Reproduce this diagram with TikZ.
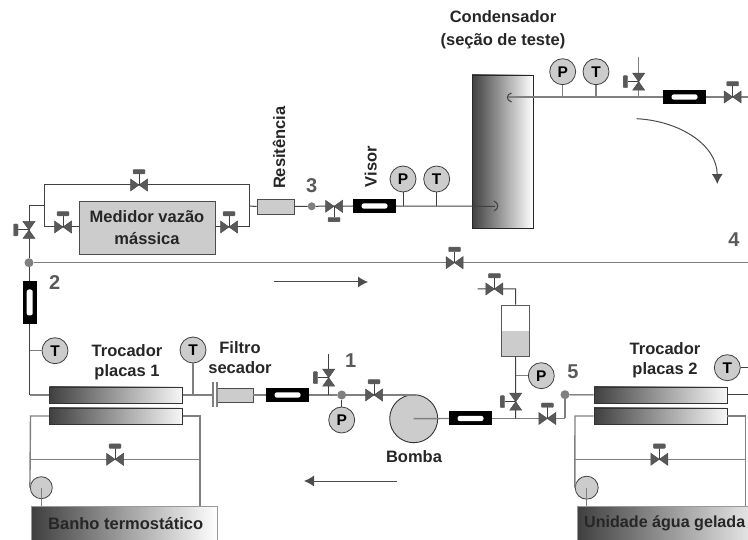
\documentclass[tikz,border=0pt]{standalone}
\usepackage{fontspec}
\setmainfont{Liberation Sans}
\usetikzlibrary{arrows.meta,positioning,calc}

\definecolor{pipedark}{gray}{0.25}
\definecolor{pipegray}{gray}{0.5}
\definecolor{partgray}{gray}{0.8}
\definecolor{valvegray}{gray}{0.35}
\definecolor{numgray}{gray}{0.35}
\definecolor{shadedark}{gray}{0.25}
\definecolor{shadelight}{gray}{0.97}

\tikzset{
  txt/.style={font=\fontsize{16.5}{19}\selectfont\bfseries,text=black!85,align=center,inner sep=0pt},
  num/.style={font=\fontsize{20}{22}\selectfont\bfseries,text=numgray,inner sep=0pt},
  pipe/.style={draw=pipedark,line width=1pt},
  pipeg/.style={draw=pipegray,line width=1.4pt},
  gauge/.style={circle,draw=black!75,line width=.8pt,fill=partgray,minimum size=26pt,inner sep=0pt,
    font=\fontsize{15.5}{17}\selectfont\bfseries},
  dot/.style={circle,fill=pipegray,minimum size=9pt,inner sep=0pt},
  visor/.style={rectangle,fill=black,minimum width=43pt,minimum height=14pt,inner sep=0pt,
    path picture={\fill[white,rounded corners=2.2pt] (path picture bounding box.center) ++(-13pt,-2.6pt) rectangle ++(26pt,5.2pt);}},
  visorv/.style={rectangle,fill=black,minimum width=14pt,minimum height=43pt,inner sep=0pt,
    path picture={\fill[white,rounded corners=2.2pt] (path picture bounding box.center) ++(-3pt,-13pt) rectangle ++(6pt,26pt);}},
  part/.style={rectangle,draw=black!70,line width=.9pt,fill=partgray,inner sep=0pt},
  exch/.style={rectangle,draw=black!80,line width=.9pt,left color=shadedark,right color=shadelight,
    minimum width=133pt,minimum height=16pt,inner sep=0pt},
  flow/.style={-{Latex[length=10pt,width=11pt]},draw=black!70,line width=1pt},
  pics/valve/.style={code={
    \fill[valvegray,draw=black!70,line width=.5pt] (-8.5,-6) -- (8.5,6) -- (8.5,-6) -- (-8.5,6) -- cycle;
    \draw[pipedark,line width=1pt] (0,0) -- (0,-11);
    \fill[valvegray,draw=black!60,line width=.4pt,rounded corners=.8pt] (-6,-11) rectangle (6,-15.5);
  }}
}

\begin{document}
\begin{tikzpicture}[x=1pt,y=-1pt]
  \useasboundingbox (0,0) rectangle (748,540);
  \clip (0,0) rectangle (748,540);

  % upper branch
  \node[part,minimum width=136pt,minimum height=53pt] (medidor) at (147,227.5) {};
  \node[txt] at (147,227.5) {Medidor vazão\\[3pt]mássica};
  \node[part,minimum width=37pt,minimum height=15pt] (resist) at (275.5,206.5) {};
  \node[visor] (visorA) at (374.5,206) {};
  \node[rectangle,draw=black!85,line width=.9pt,left color=shadedark,right color=white,
    minimum width=61pt,minimum height=153pt,inner sep=0pt] (cond) at (502.5,151.5) {};
  \node[gauge] (pA) at (403,179) {P};
  \node[gauge] (tA) at (436.7,179) {T};
  \node[gauge] (pB) at (562.7,71.7) {P};
  \node[gauge] (tB) at (596,71.7) {T};
  \node[visor] (visorB) at (684.5,97) {};
  \node[dot] (dot2) at (29,262.7) {};
  \node[dot,minimum size=8pt] (dot3) at (311.7,206.3) {};

  \coordinate (vTop) at (139,185);
  \coordinate (vMedL) at (63,227);
  \coordinate (vMedR) at (229,227);
  \coordinate (vIn) at (29,230);
  \coordinate (vRes) at (334,206.3);
  \coordinate (vDrain) at (638.7,81.7);
  \coordinate (vOut) at (732.7,97);
  \coordinate (vMain) at (454.5,262.7);
  \coordinate (bypTL) at (44,185);
  \coordinate (bypTR) at (249.5,185);
  \coordinate (bypBL) at (44,227);
  \coordinate (bypBR) at (249.5,227);
  \coordinate (bypML) at (44,206);
  \coordinate (bypMR) at (249.5,206);
  \coordinate (kneeIn) at (29,206);
  \coordinate (condIn) at (495,206.3);
  \coordinate (condOut) at (508,97);
  \coordinate (endTop) at (748,97);
  \coordinate (endDrain) at (638.7,56.7);
  \coordinate (endMain) at (748,262.7);

  \draw[pipe] (bypBL) -- (bypTL) -- (bypTR) -- (bypBR) -- (medidor.east |- bypBR);
  \draw[pipe] (bypBL) -- (medidor.west |- bypBL);
  \draw[pipe] (dot2) -- (kneeIn) -- (bypML);
  \draw[pipe] (bypMR) -- (resist.west);
  \draw[pipe] (resist.east) -- (dot3) -- (visorA.west);
  \draw[pipe] (visorA.east) -- (condIn);
  \draw[pipe] (pA.south) -- (pA |- condIn);
  \draw[pipe] (tA.south) -- (tA |- condIn);
  \draw[pipe] (494,201) .. controls (499,203) and (499,209) .. (494,211);
  \draw[pipeg] (condOut) -- (visorB.west);
  \draw[pipeg] (visorB.east) -- (endTop);
  \draw[pipe] (511.5,93) .. controls (506,94.5) and (506,100) .. (511.5,102);
  \draw[pipeg] (pB.south) -- (pB |- condOut);
  \draw[pipeg] (tB.south) -- (tB |- condOut);
  \draw[pipeg] (endDrain) -- (endDrain |- condOut);
  \draw[pipeg] (dot2) -- (endMain);

  \pic at (vTop) {valve};
  \pic at (vMedL) {valve};
  \pic at (vMedR) {valve};
  \pic[rotate=90] at (vIn) {valve};
  \pic[rotate=180] at (vRes) {valve};
  \pic[rotate=90] at (vDrain) {valve};
  \pic at (vOut) {valve};
  \pic at (vMain) {valve};

  % lower branch
  \node[visorv] (visorC) at (29.7,302.5) {};
  \node[exch] (trocA) at (115.8,395) {};
  \node[exch] (trocAb) at (115.8,416) {};
  \node[exch] (trocB) at (660.5,395) {};
  \node[exch] (trocBb) at (660.5,416) {};
  \node[gauge] (tC) at (55,350.7) {T};
  \node[gauge] (tD) at (193,350) {T};
  \node[gauge] (tE) at (727.3,367.7) {T};
  \node[gauge] (pC) at (341.7,420) {P};
  \node[gauge] (pD) at (541.3,375.7) {P};
  \node[part,minimum width=36pt,minimum height=14pt] (filtro) at (235,395) {};
  \node[visor] (visorD) at (287.5,395) {};
  \node[visor] (visorE) at (470.5,418.5) {};
  \node[circle,draw=black!80,line width=.9pt,fill=partgray,minimum size=48pt,inner sep=0pt] (bomba) at (413.7,418.7) {};
  \node[dot] (dot1) at (341.7,395) {};
  \node[dot] (dot5) at (565,394.7) {};
  \node[rectangle,draw=black!65,line width=.9pt,fill=white,minimum width=27.5pt,minimum height=51pt,inner sep=0pt] (tanque) at (515.5,330.5) {};
  \fill[partgray] ($(tanque.south west)+(.5,-.5)$) rectangle ($(tanque.east |- 0,330.7)+(-.5,0)$);

  \coordinate (vPre) at (374,395);
  \coordinate (vCarga) at (328.7,377.7);
  \coordinate (vTopT) at (494.3,289);
  \coordinate (vBaseT) at (515.7,401.7);
  \coordinate (vPos) at (547.3,418.5);
  \coordinate (kneeA) at (29.5,395);
  \coordinate (barA) at (213,382);
  \coordinate (barAe) at (213,407);
  \coordinate (barB) at (217,382);
  \coordinate (barBe) at (217,407);
  \coordinate (endCarga) at (328.7,354);
  \coordinate (topBomba) at (416,395);
  \coordinate (kneeTank) at (515.7,289);
  \coordinate (stubTank) at (477.7,289);
  \coordinate (kneeFive) at (565,418.5);
  \coordinate (baseT) at (515.7,418.5);
  \coordinate (endE) at (748,395);
  \coordinate (endT) at (748,367.7);

  \draw[pipe] (dot2) -- (visorC.north -| dot2);
  \draw[pipe] (visorC.south -| dot2) -- (kneeA -| dot2) -- (kneeA);
  \draw[pipeg] (kneeA) -- (trocA.west);
  \draw[pipeg] (tC.west) -- (tC -| kneeA);
  \draw[pipeg] (trocA.east) -- (barA |- trocA);
  \draw[pipeg] (tD.south) -- (tD |- trocA);
  \draw[pipeg] (barA) -- (barAe);
  \draw[pipeg] (barB) -- (barBe);
  \draw[pipeg] (filtro.east) -- (visorD.west);
  \draw[pipeg] (visorD.east) -- (dot1) -- (vPre) -- (topBomba);
  \draw[pipe] (dot1) -- (pC.north);
  \draw[pipe] (endCarga) -- (endCarga |- dot1);
  \draw[pipeg] (bomba.center) -- (visorE.west);
  \draw[pipeg] (visorE.east) -- (kneeFive);
  \draw[pipeg] (kneeFive) -- (dot5);
  \draw[pipe] (dot5) -- (trocB.west);
  \draw[pipe] (trocB.east) -- (endE);
  \draw[pipe] (tE.east) -- (endT);
  \draw[pipe] (tanque.south) -- (baseT);
  \draw[pipe] (tanque.north) -- (kneeTank) -- (stubTank);
  \draw[pipeg] (pD.west) -- (pD -| baseT);

  \pic at (vPre) {valve};
  \pic[rotate=90] at (vCarga) {valve};
  \pic at (vTopT) {valve};
  \pic[rotate=90] at (vBaseT) {valve};
  \pic at (vPos) {valve};

  % thermal loops
  \node[gauge,minimum size=22pt] (pumpA) at (41.3,487.7) {};
  \node[gauge,minimum size=23pt] (pumpB) at (586.7,487.7) {};
  \node[rectangle,draw=black!40,line width=.9pt,left color=shadedark,middle color=gray!65,right color=white,
    minimum width=186pt,minimum height=50pt,inner sep=0pt,anchor=north west] (banho) at (31.3,505.7) {};
  \node[rectangle,draw=black!40,line width=.9pt,left color=shadedark,right color=white,
    minimum width=200pt,minimum height=50pt,inner sep=0pt,anchor=north west] (unidade) at (576.7,505.7) {};
  \node[txt,anchor=west] at (48,524) {Banho termostático};
  \node[txt,anchor=west,font=\fontsize{16.1}{19}\selectfont\bfseries] at (584,523.5) {Unidade água gelada};

  \coordinate (vLoopA) at (115,459.3);
  \coordinate (vLoopB) at (659.3,459.3);
  \coordinate (loopAL) at (30.5,416);
  \coordinate (loopAR) at (200,416);
  \coordinate (loopBL) at (575,416);
  \coordinate (loopBR) at (745.3,416);

  \draw[pipeg] (pumpA.west) -- (loopAL) -- (trocAb.west);
  \draw[pipeg] (trocAb.east) -- (loopAR) -- (loopAR |- banho.north);
  \draw[pipeg] (loopAL |- vLoopA) -- (loopAR |- vLoopA);
  \draw[pipeg] (pumpA.center) -- (pumpA |- banho.north);
  \draw[pipeg] (pumpB.west) -- (loopBL) -- (trocBb.west);
  \draw[pipeg] (trocBb.east) -- (loopBR) -- (loopBR |- unidade.north);
  \draw[pipeg] (loopBL |- vLoopB) -- (loopBR |- vLoopB);
  \draw[pipeg] (pumpB.center) -- (pumpB |- unidade.north);

  \pic at (vLoopA) {valve};
  \pic at (vLoopB) {valve};

  % flow arrows
  \coordinate (arrA) at (274,282);
  \coordinate (arrAe) at (368,282);
  \coordinate (arrB) at (397,481);
  \coordinate (arrBe) at (304,481);
  \coordinate (arrC) at (636.7,118.7);
  \coordinate (arrCe) at (717.3,184);
  \draw[flow] (arrA) -- (arrAe);
  \draw[flow] (arrB) -- (arrBe);
  \draw[flow] (arrC) .. controls (680,121) and (717,145) .. (arrCe);

  % labels
  \node[txt] at (503,30) {Condensador\\[4pt](seção de teste)};
  \node[txt,rotate=90] at (279,147.7) {Resitência};
  \node[txt,rotate=90] at (370.7,166.7) {Visor};
  \node[txt] at (127,362) {Trocador\\[1pt]placas 1};
  \node[txt] at (240,358) {Filtro\\[1pt]secador};
  \node[txt] at (665,360) {Trocador\\[1pt]placas 2};
  \node[txt] at (414,457) {Bomba};
  \node[num] at (54.7,282.7) {2};
  \node[num] at (311.7,186) {3};
  \node[num] at (734,240) {4};
  \node[num] at (350.7,360.7) {1};
  \node[num] at (573,372) {5};
\end{tikzpicture}
\end{document}
